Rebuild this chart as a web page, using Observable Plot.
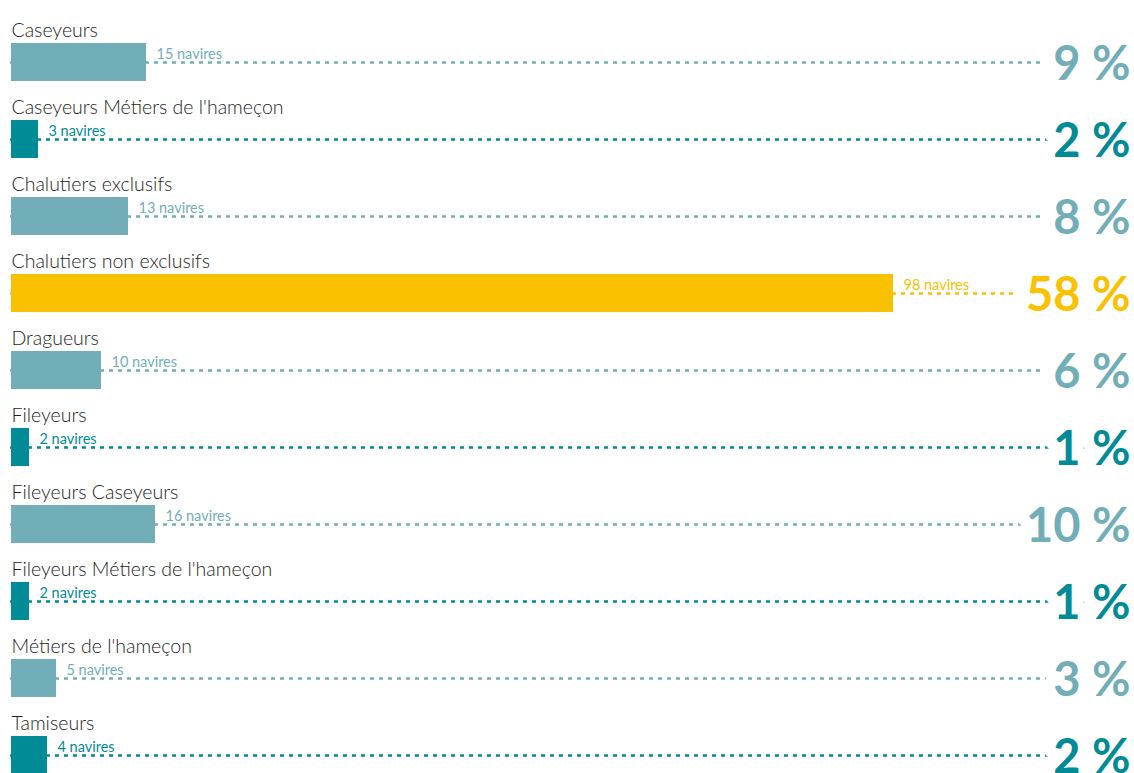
<!DOCTYPE html>
<html>
<head>
<meta charset="utf-8">
<script src="https://cdn.jsdelivr.net/npm/d3@7"></script>
<script src="https://cdn.jsdelivr.net/npm/@observablehq/plot@0.6"></script>
<style>
  html, body { margin: 0; padding: 0; background: #fff; overflow: hidden; }
  #chart svg { overflow: hidden; }
</style>
</head>
<body>
<div id="chart"></div>
<script>
const categories = [
  "Caseyeurs",
  "Caseyeurs Métiers de l'hameçon",
  "Chalutiers exclusifs",
  "Chalutiers non exclusifs",
  "Dragueurs",
  "Fileyeurs",
  "Fileyeurs Caseyeurs",
  "Fileyeurs Métiers de l'hameçon",
  "Métiers de l'hameçon",
  "Tamiseurs"
];
const navires = [15, 3, 13, 98, 10, 2, 16, 2, 5, 4];
const percents = [9, 2, 8, 58, 6, 1, 10, 1, 3, 2];

const LIGHT = "#72aeb7", DARK = "#008b96", GOLD = "#f9c100";
const maxV = d3.max(navires);
const data = categories.map((c, i) => ({
  cat: c,
  n: navires[i],
  pct: percents[i],
  color: navires[i] === maxV ? GOLD : (i % 2 === 0 ? LIGHT : DARK)
}));

const step = 77.2;
const c0 = 61;
const pad = 0.508;

const chart = Plot.plot({
  width: 1134,
  height: 773,
  marginLeft: 10,
  marginRight: 4,
  marginTop: 0,
  marginBottom: 0,
  style: { fontFamily: "Lato, sans-serif", background: "#fff", overflow: "hidden" },
  x: { domain: [0, 98], range: [11, 893], axis: null },
  y: {
    type: "band",
    domain: categories,
    range: [c0 - step / 2, c0 + 9 * step + step / 2],
    paddingInner: pad,
    paddingOuter: pad / 2,
    axis: null
  },
  marks: [
    Plot.ruleY(data, {
      y: "cat",
      stroke: d => d.color,
      strokeWidth: 2.5,
      strokeDasharray: "4,5"
    }),
    Plot.barX(data, {
      x1: 0,
      x2: "n",
      y: "cat",
      fill: d => d.color
    }),
    Plot.text(data, {
      x: 0,
      y: "cat",
      text: "cat",
      textAnchor: "start",
      lineAnchor: "bottom",
      dy: -26,
      fontSize: 19.5,
      fontWeight: 300,
      fill: "#1e1e1e"
    }),
    Plot.text(data, {
      x: "n",
      y: "cat",
      text: d => `${d.n} navires`,
      textAnchor: "start",
      lineAnchor: "bottom",
      dx: 10,
      dy: -4,
      fontSize: 14.5,
      fontWeight: 400,
      fill: d => d.color
    }),
    Plot.text(data, {
      y: "cat",
      frameAnchor: "right",
      text: d => `${d.pct} %`,
      textAnchor: "end",
      lineAnchor: "bottom",
      dy: 17,
      fontSize: 47,
      fontWeight: "bold",
      fill: d => d.color,
      stroke: "white",
      strokeWidth: 24,
      paintOrder: "stroke"
    })
  ]
});
document.getElementById("chart").appendChild(chart);
</script>
</body>
</html>
